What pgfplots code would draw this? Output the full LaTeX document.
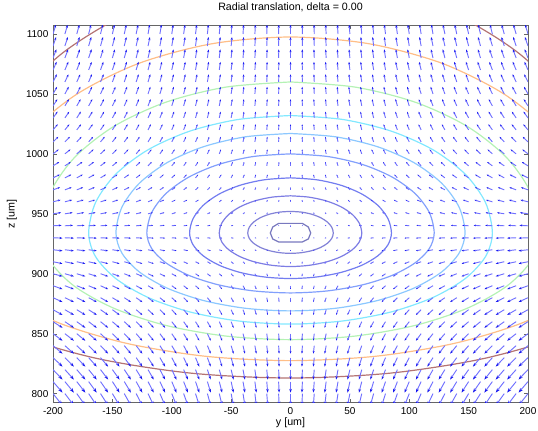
\documentclass[border=0pt]{standalone}
\usepackage{pgfplots}
\pgfplotsset{compat=1.18}
\usepackage{pgfplotstable}
\usepackage{fontspec}
\setmainfont{Liberation Sans}
\usetikzlibrary{arrows.meta,calc}

\definecolor{cA}{RGB}{120,120,190}
\definecolor{cB}{RGB}{130,130,215}
\definecolor{cC}{RGB}{125,125,228}
\definecolor{cD}{RGB}{115,125,240}
\definecolor{cE}{RGB}{130,160,252}
\definecolor{cF}{RGB}{140,200,255}
\definecolor{cG}{RGB}{130,232,255}
\definecolor{cH}{RGB}{180,242,180}
\definecolor{cI}{RGB}{255,190,135}
\definecolor{cJ}{RGB}{180,115,115}
\definecolor{shaft}{RGB}{112,112,255}
\definecolor{head}{RGB}{25,25,240}

% field: y z u v  (rows z = 800 ... 1100)
\pgfplotstableread{
y z u v
-200 800 8 -10
-190 800 7.6 -10
-180 800 7.2 -10
-170 800 6.8 -10
-160 800 6.4 -10
-150 800 6 -10
-140 800 5.6 -10
-130 800 5.2 -10
-120 800 4.8 -10
-110 800 4.4 -10
-100 800 4 -10
-90 800 3.6 -10
-80 800 3.2 -10
-70 800 2.8 -10
-60 800 2.4 -10
-50 800 2 -10
-40 800 1.6 -10
-30 800 1.2 -10
-20 800 0.8 -10
-10 800 0.4 -10
0 800 0 -10
10 800 -0.4 -10
20 800 -0.8 -10
30 800 -1.2 -10
40 800 -1.6 -10
50 800 -2 -10
60 800 -2.4 -10
70 800 -2.8 -10
80 800 -3.2 -10
90 800 -3.6 -10
100 800 -4 -10
110 800 -4.4 -10
120 800 -4.8 -10
130 800 -5.2 -10
140 800 -5.6 -10
150 800 -6 -10
160 800 -6.4 -10
170 800 -6.8 -10
180 800 -7.2 -10
190 800 -7.6 -10
200 800 -8 -10
-200 810 8 -9.2
-190 810 7.6 -9.2
-180 810 7.2 -9.2
-170 810 6.8 -9.2
-160 810 6.4 -9.2
-150 810 6 -9.2
-140 810 5.6 -9.2
-130 810 5.2 -9.2
-120 810 4.8 -9.2
-110 810 4.4 -9.2
-100 810 4 -9.2
-90 810 3.6 -9.2
-80 810 3.2 -9.2
-70 810 2.8 -9.2
-60 810 2.4 -9.2
-50 810 2 -9.2
-40 810 1.6 -9.2
-30 810 1.2 -9.2
-20 810 0.8 -9.2
-10 810 0.4 -9.2
0 810 0 -9.2
10 810 -0.4 -9.2
20 810 -0.8 -9.2
30 810 -1.2 -9.2
40 810 -1.6 -9.2
50 810 -2 -9.2
60 810 -2.4 -9.2
70 810 -2.8 -9.2
80 810 -3.2 -9.2
90 810 -3.6 -9.2
100 810 -4 -9.2
110 810 -4.4 -9.2
120 810 -4.8 -9.2
130 810 -5.2 -9.2
140 810 -5.6 -9.2
150 810 -6 -9.2
160 810 -6.4 -9.2
170 810 -6.8 -9.2
180 810 -7.2 -9.2
190 810 -7.6 -9.2
200 810 -8 -9.2
-200 820 8 -8.3
-190 820 7.6 -8.3
-180 820 7.2 -8.3
-170 820 6.8 -8.3
-160 820 6.4 -8.3
-150 820 6 -8.3
-140 820 5.6 -8.3
-130 820 5.2 -8.3
-120 820 4.8 -8.3
-110 820 4.4 -8.3
-100 820 4 -8.3
-90 820 3.6 -8.3
-80 820 3.2 -8.3
-70 820 2.8 -8.3
-60 820 2.4 -8.3
-50 820 2 -8.3
-40 820 1.6 -8.3
-30 820 1.2 -8.3
-20 820 0.8 -8.3
-10 820 0.4 -8.3
0 820 0 -8.3
10 820 -0.4 -8.3
20 820 -0.8 -8.3
30 820 -1.2 -8.3
40 820 -1.6 -8.3
50 820 -2 -8.3
60 820 -2.4 -8.3
70 820 -2.8 -8.3
80 820 -3.2 -8.3
90 820 -3.6 -8.3
100 820 -4 -8.3
110 820 -4.4 -8.3
120 820 -4.8 -8.3
130 820 -5.2 -8.3
140 820 -5.6 -8.3
150 820 -6 -8.3
160 820 -6.4 -8.3
170 820 -6.8 -8.3
180 820 -7.2 -8.3
190 820 -7.6 -8.3
200 820 -8 -8.3
-200 830 8 -7.5
-190 830 7.6 -7.5
-180 830 7.2 -7.5
-170 830 6.8 -7.5
-160 830 6.4 -7.5
-150 830 6 -7.5
-140 830 5.6 -7.5
-130 830 5.2 -7.5
-120 830 4.8 -7.5
-110 830 4.4 -7.5
-100 830 4 -7.5
-90 830 3.6 -7.5
-80 830 3.2 -7.5
-70 830 2.8 -7.5
-60 830 2.4 -7.5
-50 830 2 -7.5
-40 830 1.6 -7.5
-30 830 1.2 -7.5
-20 830 0.8 -7.5
-10 830 0.4 -7.5
0 830 0 -7.5
10 830 -0.4 -7.5
20 830 -0.8 -7.5
30 830 -1.2 -7.5
40 830 -1.6 -7.5
50 830 -2 -7.5
60 830 -2.4 -7.5
70 830 -2.8 -7.5
80 830 -3.2 -7.5
90 830 -3.6 -7.5
100 830 -4 -7.5
110 830 -4.4 -7.5
120 830 -4.8 -7.5
130 830 -5.2 -7.5
140 830 -5.6 -7.5
150 830 -6 -7.5
160 830 -6.4 -7.5
170 830 -6.8 -7.5
180 830 -7.2 -7.5
190 830 -7.6 -7.5
200 830 -8 -7.5
-200 840 8 -6.7
-190 840 7.6 -6.7
-180 840 7.2 -6.7
-170 840 6.8 -6.7
-160 840 6.4 -6.7
-150 840 6 -6.7
-140 840 5.6 -6.7
-130 840 5.2 -6.7
-120 840 4.8 -6.7
-110 840 4.4 -6.7
-100 840 4 -6.7
-90 840 3.6 -6.7
-80 840 3.2 -6.7
-70 840 2.8 -6.7
-60 840 2.4 -6.7
-50 840 2 -6.7
-40 840 1.6 -6.7
-30 840 1.2 -6.7
-20 840 0.8 -6.7
-10 840 0.4 -6.7
0 840 0 -6.7
10 840 -0.4 -6.7
20 840 -0.8 -6.7
30 840 -1.2 -6.7
40 840 -1.6 -6.7
50 840 -2 -6.7
60 840 -2.4 -6.7
70 840 -2.8 -6.7
80 840 -3.2 -6.7
90 840 -3.6 -6.7
100 840 -4 -6.7
110 840 -4.4 -6.7
120 840 -4.8 -6.7
130 840 -5.2 -6.7
140 840 -5.6 -6.7
150 840 -6 -6.7
160 840 -6.4 -6.7
170 840 -6.8 -6.7
180 840 -7.2 -6.7
190 840 -7.6 -6.7
200 840 -8 -6.7
-200 850 8 -5.9
-190 850 7.6 -5.9
-180 850 7.2 -5.9
-170 850 6.8 -5.9
-160 850 6.4 -5.9
-150 850 6 -5.9
-140 850 5.6 -5.9
-130 850 5.2 -5.9
-120 850 4.8 -5.9
-110 850 4.4 -5.9
-100 850 4 -5.9
-90 850 3.6 -5.9
-80 850 3.2 -5.9
-70 850 2.8 -5.9
-60 850 2.4 -5.9
-50 850 2 -5.9
-40 850 1.6 -5.9
-30 850 1.2 -5.9
-20 850 0.8 -5.9
-10 850 0.4 -5.9
0 850 0 -5.9
10 850 -0.4 -5.9
20 850 -0.8 -5.9
30 850 -1.2 -5.9
40 850 -1.6 -5.9
50 850 -2 -5.9
60 850 -2.4 -5.9
70 850 -2.8 -5.9
80 850 -3.2 -5.9
90 850 -3.6 -5.9
100 850 -4 -5.9
110 850 -4.4 -5.9
120 850 -4.8 -5.9
130 850 -5.2 -5.9
140 850 -5.6 -5.9
150 850 -6 -5.9
160 850 -6.4 -5.9
170 850 -6.8 -5.9
180 850 -7.2 -5.9
190 850 -7.6 -5.9
200 850 -8 -5.9
-200 860 8 -5.1
-190 860 7.6 -5.1
-180 860 7.2 -5.1
-170 860 6.8 -5.1
-160 860 6.4 -5.1
-150 860 6 -5.1
-140 860 5.6 -5.1
-130 860 5.2 -5.1
-120 860 4.8 -5.1
-110 860 4.4 -5.1
-100 860 4 -5.1
-90 860 3.6 -5.1
-80 860 3.2 -5.1
-70 860 2.8 -5.1
-60 860 2.4 -5.1
-50 860 2 -5.1
-40 860 1.6 -5.1
-30 860 1.2 -5.1
-20 860 0.8 -5.1
-10 860 0.4 -5.1
0 860 0 -5.1
10 860 -0.4 -5.1
20 860 -0.8 -5.1
30 860 -1.2 -5.1
40 860 -1.6 -5.1
50 860 -2 -5.1
60 860 -2.4 -5.1
70 860 -2.8 -5.1
80 860 -3.2 -5.1
90 860 -3.6 -5.1
100 860 -4 -5.1
110 860 -4.4 -5.1
120 860 -4.8 -5.1
130 860 -5.2 -5.1
140 860 -5.6 -5.1
150 860 -6 -5.1
160 860 -6.4 -5.1
170 860 -6.8 -5.1
180 860 -7.2 -5.1
190 860 -7.6 -5.1
200 860 -8 -5.1
-200 870 8 -4.4
-190 870 7.6 -4.4
-180 870 7.2 -4.4
-170 870 6.8 -4.4
-160 870 6.4 -4.4
-150 870 6 -4.4
-140 870 5.6 -4.4
-130 870 5.2 -4.4
-120 870 4.8 -4.4
-110 870 4.4 -4.4
-100 870 4 -4.4
-90 870 3.6 -4.4
-80 870 3.2 -4.4
-70 870 2.8 -4.4
-60 870 2.4 -4.4
-50 870 2 -4.4
-40 870 1.6 -4.4
-30 870 1.2 -4.4
-20 870 0.8 -4.4
-10 870 0.4 -4.4
0 870 0 -4.4
10 870 -0.4 -4.4
20 870 -0.8 -4.4
30 870 -1.2 -4.4
40 870 -1.6 -4.4
50 870 -2 -4.4
60 870 -2.4 -4.4
70 870 -2.8 -4.4
80 870 -3.2 -4.4
90 870 -3.6 -4.4
100 870 -4 -4.4
110 870 -4.4 -4.4
120 870 -4.8 -4.4
130 870 -5.2 -4.4
140 870 -5.6 -4.4
150 870 -6 -4.4
160 870 -6.4 -4.4
170 870 -6.8 -4.4
180 870 -7.2 -4.4
190 870 -7.6 -4.4
200 870 -8 -4.4
-200 880 8 -3.6
-190 880 7.6 -3.6
-180 880 7.2 -3.6
-170 880 6.8 -3.6
-160 880 6.4 -3.6
-150 880 6 -3.6
-140 880 5.6 -3.6
-130 880 5.2 -3.6
-120 880 4.8 -3.6
-110 880 4.4 -3.6
-100 880 4 -3.6
-90 880 3.6 -3.6
-80 880 3.2 -3.6
-70 880 2.8 -3.6
-60 880 2.4 -3.6
-50 880 2 -3.6
-40 880 1.6 -3.6
-30 880 1.2 -3.6
-20 880 0.8 -3.6
-10 880 0.4 -3.6
0 880 0 -3.6
10 880 -0.4 -3.6
20 880 -0.8 -3.6
30 880 -1.2 -3.6
40 880 -1.6 -3.6
50 880 -2 -3.6
60 880 -2.4 -3.6
70 880 -2.8 -3.6
80 880 -3.2 -3.6
90 880 -3.6 -3.6
100 880 -4 -3.6
110 880 -4.4 -3.6
120 880 -4.8 -3.6
130 880 -5.2 -3.6
140 880 -5.6 -3.6
150 880 -6 -3.6
160 880 -6.4 -3.6
170 880 -6.8 -3.6
180 880 -7.2 -3.6
190 880 -7.6 -3.6
200 880 -8 -3.6
-200 890 8 -2.9
-190 890 7.6 -2.9
-180 890 7.2 -2.9
-170 890 6.8 -2.9
-160 890 6.4 -2.9
-150 890 6 -2.9
-140 890 5.6 -2.9
-130 890 5.2 -2.9
-120 890 4.8 -2.9
-110 890 4.4 -2.9
-100 890 4 -2.9
-90 890 3.6 -2.9
-80 890 3.2 -2.9
-70 890 2.8 -2.9
-60 890 2.4 -2.9
-50 890 2 -2.9
-40 890 1.6 -2.9
-30 890 1.2 -2.9
-20 890 0.8 -2.9
-10 890 0.4 -2.9
0 890 0 -2.9
10 890 -0.4 -2.9
20 890 -0.8 -2.9
30 890 -1.2 -2.9
40 890 -1.6 -2.9
50 890 -2 -2.9
60 890 -2.4 -2.9
70 890 -2.8 -2.9
80 890 -3.2 -2.9
90 890 -3.6 -2.9
100 890 -4 -2.9
110 890 -4.4 -2.9
120 890 -4.8 -2.9
130 890 -5.2 -2.9
140 890 -5.6 -2.9
150 890 -6 -2.9
160 890 -6.4 -2.9
170 890 -6.8 -2.9
180 890 -7.2 -2.9
190 890 -7.6 -2.9
200 890 -8 -2.9
-200 900 8 -2.2
-190 900 7.6 -2.2
-180 900 7.2 -2.2
-170 900 6.8 -2.2
-160 900 6.4 -2.2
-150 900 6 -2.2
-140 900 5.6 -2.2
-130 900 5.2 -2.2
-120 900 4.8 -2.2
-110 900 4.4 -2.2
-100 900 4 -2.2
-90 900 3.6 -2.2
-80 900 3.2 -2.2
-70 900 2.8 -2.2
-60 900 2.4 -2.2
-50 900 2 -2.2
-40 900 1.6 -2.2
-30 900 1.2 -2.2
-20 900 0.8 -2.2
-10 900 0.4 -2.2
0 900 0 -2.2
10 900 -0.4 -2.2
20 900 -0.8 -2.2
30 900 -1.2 -2.2
40 900 -1.6 -2.2
50 900 -2 -2.2
60 900 -2.4 -2.2
70 900 -2.8 -2.2
80 900 -3.2 -2.2
90 900 -3.6 -2.2
100 900 -4 -2.2
110 900 -4.4 -2.2
120 900 -4.8 -2.2
130 900 -5.2 -2.2
140 900 -5.6 -2.2
150 900 -6 -2.2
160 900 -6.4 -2.2
170 900 -6.8 -2.2
180 900 -7.2 -2.2
190 900 -7.6 -2.2
200 900 -8 -2.2
-200 910 8 -1.6
-190 910 7.6 -1.6
-180 910 7.2 -1.6
-170 910 6.8 -1.6
-160 910 6.4 -1.6
-150 910 6 -1.6
-140 910 5.6 -1.6
-130 910 5.2 -1.6
-120 910 4.8 -1.6
-110 910 4.4 -1.6
-100 910 4 -1.6
-90 910 3.6 -1.6
-80 910 3.2 -1.6
-70 910 2.8 -1.6
-60 910 2.4 -1.6
-50 910 2 -1.6
-40 910 1.6 -1.6
-30 910 1.2 -1.6
-20 910 0.8 -1.6
-10 910 0.4 -1.6
0 910 0 -1.6
10 910 -0.4 -1.6
20 910 -0.8 -1.6
30 910 -1.2 -1.6
40 910 -1.6 -1.6
50 910 -2 -1.6
60 910 -2.4 -1.6
70 910 -2.8 -1.6
80 910 -3.2 -1.6
90 910 -3.6 -1.6
100 910 -4 -1.6
110 910 -4.4 -1.6
120 910 -4.8 -1.6
130 910 -5.2 -1.6
140 910 -5.6 -1.6
150 910 -6 -1.6
160 910 -6.4 -1.6
170 910 -6.8 -1.6
180 910 -7.2 -1.6
190 910 -7.6 -1.6
200 910 -8 -1.6
-200 920 8 -0.9
-190 920 7.6 -0.9
-180 920 7.2 -0.9
-170 920 6.8 -0.9
-160 920 6.4 -0.9
-150 920 6 -0.9
-140 920 5.6 -0.9
-130 920 5.2 -0.9
-120 920 4.8 -0.9
-110 920 4.4 -0.9
-100 920 4 -0.9
-90 920 3.6 -0.9
-80 920 3.2 -0.9
-70 920 2.8 -0.9
-60 920 2.4 -0.9
-50 920 2 -0.9
-40 920 1.6 -0.9
-30 920 1.2 -0.9
-20 920 0.8 -0.9
-10 920 0.4 -0.9
0 920 0 -0.9
10 920 -0.4 -0.9
20 920 -0.8 -0.9
30 920 -1.2 -0.9
40 920 -1.6 -0.9
50 920 -2 -0.9
60 920 -2.4 -0.9
70 920 -2.8 -0.9
80 920 -3.2 -0.9
90 920 -3.6 -0.9
100 920 -4 -0.9
110 920 -4.4 -0.9
120 920 -4.8 -0.9
130 920 -5.2 -0.9
140 920 -5.6 -0.9
150 920 -6 -0.9
160 920 -6.4 -0.9
170 920 -6.8 -0.9
180 920 -7.2 -0.9
190 920 -7.6 -0.9
200 920 -8 -0.9
-200 930 8 -0.3
-190 930 7.6 -0.3
-180 930 7.2 -0.3
-170 930 6.8 -0.3
-160 930 6.4 -0.3
-150 930 6 -0.3
-140 930 5.6 -0.3
-130 930 5.2 -0.3
-120 930 4.8 -0.3
-110 930 4.4 -0.3
-100 930 4 -0.3
-90 930 3.6 -0.3
-80 930 3.2 -0.3
-70 930 2.8 -0.3
-60 930 2.4 -0.3
-50 930 2 -0.3
-40 930 1.6 -0.3
-30 930 1.2 -0.3
-20 930 0.8 -0.3
-10 930 0.4 -0.3
0 930 0 -0.3
10 930 -0.4 -0.3
20 930 -0.8 -0.3
30 930 -1.2 -0.3
40 930 -1.6 -0.3
50 930 -2 -0.3
60 930 -2.4 -0.3
70 930 -2.8 -0.3
80 930 -3.2 -0.3
90 930 -3.6 -0.3
100 930 -4 -0.3
110 930 -4.4 -0.3
120 930 -4.8 -0.3
130 930 -5.2 -0.3
140 930 -5.6 -0.3
150 930 -6 -0.3
160 930 -6.4 -0.3
170 930 -6.8 -0.3
180 930 -7.2 -0.3
190 930 -7.6 -0.3
200 930 -8 -0.3
-200 940 7.2 0.4
-190 940 6.8 0.4
-180 940 6.5 0.4
-170 940 6.1 0.4
-160 940 5.8 0.4
-150 940 5.4 0.4
-140 940 5 0.4
-130 940 4.7 0.4
-120 940 4.3 0.4
-110 940 4 0.4
-100 940 3.6 0.4
-90 940 3.2 0.4
-80 940 2.9 0.4
-70 940 2.5 0.4
-60 940 2.2 0.4
-50 940 1.8 0.4
-40 940 1.4 0.4
-30 940 1.1 0.4
-20 940 0.7 0.4
-10 940 0.4 0.4
0 940 0 0.4
10 940 -0.4 0.4
20 940 -0.7 0.4
30 940 -1.1 0.4
40 940 -1.4 0.4
50 940 -1.8 0.4
60 940 -2.2 0.4
70 940 -2.5 0.4
80 940 -2.9 0.4
90 940 -3.2 0.4
100 940 -3.6 0.4
110 940 -4 0.4
120 940 -4.3 0.4
130 940 -4.7 0.4
140 940 -5 0.4
150 940 -5.4 0.4
160 940 -5.8 0.4
170 940 -6.1 0.4
180 940 -6.5 0.4
190 940 -6.8 0.4
200 940 -7.2 0.4
-200 950 6.8 1
-190 950 6.5 1
-180 950 6.1 1
-170 950 5.8 1
-160 950 5.4 1
-150 950 5.1 1
-140 950 4.8 1
-130 950 4.4 1
-120 950 4.1 1
-110 950 3.7 1
-100 950 3.4 1
-90 950 3.1 1
-80 950 2.7 1
-70 950 2.4 1
-60 950 2 1
-50 950 1.7 1
-40 950 1.4 1
-30 950 1 1
-20 950 0.7 1
-10 950 0.3 1
0 950 0 1
10 950 -0.3 1
20 950 -0.7 1
30 950 -1 1
40 950 -1.4 1
50 950 -1.7 1
60 950 -2 1
70 950 -2.4 1
80 950 -2.7 1
90 950 -3.1 1
100 950 -3.4 1
110 950 -3.7 1
120 950 -4.1 1
130 950 -4.4 1
140 950 -4.8 1
150 950 -5.1 1
160 950 -5.4 1
170 950 -5.8 1
180 950 -6.1 1
190 950 -6.5 1
200 950 -6.8 1
-200 960 6.4 1.6
-190 960 6.1 1.6
-180 960 5.8 1.6
-170 960 5.4 1.6
-160 960 5.1 1.6
-150 960 4.8 1.6
-140 960 4.5 1.6
-130 960 4.2 1.6
-120 960 3.8 1.6
-110 960 3.5 1.6
-100 960 3.2 1.6
-90 960 2.9 1.6
-80 960 2.6 1.6
-70 960 2.2 1.6
-60 960 1.9 1.6
-50 960 1.6 1.6
-40 960 1.3 1.6
-30 960 1 1.6
-20 960 0.6 1.6
-10 960 0.3 1.6
0 960 0 1.6
10 960 -0.3 1.6
20 960 -0.6 1.6
30 960 -1 1.6
40 960 -1.3 1.6
50 960 -1.6 1.6
60 960 -1.9 1.6
70 960 -2.2 1.6
80 960 -2.6 1.6
90 960 -2.9 1.6
100 960 -3.2 1.6
110 960 -3.5 1.6
120 960 -3.8 1.6
130 960 -4.2 1.6
140 960 -4.5 1.6
150 960 -4.8 1.6
160 960 -5.1 1.6
170 960 -5.4 1.6
180 960 -5.8 1.6
190 960 -6.1 1.6
200 960 -6.4 1.6
-200 970 6 2.1
-190 970 5.7 2.1
-180 970 5.4 2.1
-170 970 5.1 2.1
-160 970 4.8 2.1
-150 970 4.5 2.1
-140 970 4.2 2.1
-130 970 3.9 2.1
-120 970 3.6 2.1
-110 970 3.3 2.1
-100 970 3 2.1
-90 970 2.7 2.1
-80 970 2.4 2.1
-70 970 2.1 2.1
-60 970 1.8 2.1
-50 970 1.5 2.1
-40 970 1.2 2.1
-30 970 0.9 2.1
-20 970 0.6 2.1
-10 970 0.3 2.1
0 970 0 2.1
10 970 -0.3 2.1
20 970 -0.6 2.1
30 970 -0.9 2.1
40 970 -1.2 2.1
50 970 -1.5 2.1
60 970 -1.8 2.1
70 970 -2.1 2.1
80 970 -2.4 2.1
90 970 -2.7 2.1
100 970 -3 2.1
110 970 -3.3 2.1
120 970 -3.6 2.1
130 970 -3.9 2.1
140 970 -4.2 2.1
150 970 -4.5 2.1
160 970 -4.8 2.1
170 970 -5.1 2.1
180 970 -5.4 2.1
190 970 -5.7 2.1
200 970 -6 2.1
-200 980 5.6 2.7
-190 980 5.3 2.7
-180 980 5 2.7
-170 980 4.8 2.7
-160 980 4.5 2.7
-150 980 4.2 2.7
-140 980 3.9 2.7
-130 980 3.6 2.7
-120 980 3.4 2.7
-110 980 3.1 2.7
-100 980 2.8 2.7
-90 980 2.5 2.7
-80 980 2.2 2.7
-70 980 2 2.7
-60 980 1.7 2.7
-50 980 1.4 2.7
-40 980 1.1 2.7
-30 980 0.8 2.7
-20 980 0.6 2.7
-10 980 0.3 2.7
0 980 0 2.7
10 980 -0.3 2.7
20 980 -0.6 2.7
30 980 -0.8 2.7
40 980 -1.1 2.7
50 980 -1.4 2.7
60 980 -1.7 2.7
70 980 -2 2.7
80 980 -2.2 2.7
90 980 -2.5 2.7
100 980 -2.8 2.7
110 980 -3.1 2.7
120 980 -3.4 2.7
130 980 -3.6 2.7
140 980 -3.9 2.7
150 980 -4.2 2.7
160 980 -4.5 2.7
170 980 -4.8 2.7
180 980 -5 2.7
190 980 -5.3 2.7
200 980 -5.6 2.7
-200 990 5.2 3.2
-190 990 4.9 3.2
-180 990 4.7 3.2
-170 990 4.4 3.2
-160 990 4.2 3.2
-150 990 3.9 3.2
-140 990 3.6 3.2
-130 990 3.4 3.2
-120 990 3.1 3.2
-110 990 2.9 3.2
-100 990 2.6 3.2
-90 990 2.3 3.2
-80 990 2.1 3.2
-70 990 1.8 3.2
-60 990 1.6 3.2
-50 990 1.3 3.2
-40 990 1 3.2
-30 990 0.8 3.2
-20 990 0.5 3.2
-10 990 0.3 3.2
0 990 0 3.2
10 990 -0.3 3.2
20 990 -0.5 3.2
30 990 -0.8 3.2
40 990 -1 3.2
50 990 -1.3 3.2
60 990 -1.6 3.2
70 990 -1.8 3.2
80 990 -2.1 3.2
90 990 -2.3 3.2
100 990 -2.6 3.2
110 990 -2.9 3.2
120 990 -3.1 3.2
130 990 -3.4 3.2
140 990 -3.6 3.2
150 990 -3.9 3.2
160 990 -4.2 3.2
170 990 -4.4 3.2
180 990 -4.7 3.2
190 990 -4.9 3.2
200 990 -5.2 3.2
-200 1000 4.8 3.7
-190 1000 4.6 3.7
-180 1000 4.3 3.7
-170 1000 4.1 3.7
-160 1000 3.8 3.7
-150 1000 3.6 3.7
-140 1000 3.4 3.7
-130 1000 3.1 3.7
-120 1000 2.9 3.7
-110 1000 2.6 3.7
-100 1000 2.4 3.7
-90 1000 2.2 3.7
-80 1000 1.9 3.7
-70 1000 1.7 3.7
-60 1000 1.4 3.7
-50 1000 1.2 3.7
-40 1000 1 3.7
-30 1000 0.7 3.7
-20 1000 0.5 3.7
-10 1000 0.2 3.7
0 1000 0 3.7
10 1000 -0.2 3.7
20 1000 -0.5 3.7
30 1000 -0.7 3.7
40 1000 -1 3.7
50 1000 -1.2 3.7
60 1000 -1.4 3.7
70 1000 -1.7 3.7
80 1000 -1.9 3.7
90 1000 -2.2 3.7
100 1000 -2.4 3.7
110 1000 -2.6 3.7
120 1000 -2.9 3.7
130 1000 -3.1 3.7
140 1000 -3.4 3.7
150 1000 -3.6 3.7
160 1000 -3.8 3.7
170 1000 -4.1 3.7
180 1000 -4.3 3.7
190 1000 -4.6 3.7
200 1000 -4.8 3.7
-200 1010 4.4 4.2
-190 1010 4.2 4.2
-180 1010 4 4.2
-170 1010 3.7 4.2
-160 1010 3.5 4.2
-150 1010 3.3 4.2
-140 1010 3.1 4.2
-130 1010 2.9 4.2
-120 1010 2.6 4.2
-110 1010 2.4 4.2
-100 1010 2.2 4.2
-90 1010 2 4.2
-80 1010 1.8 4.2
-70 1010 1.5 4.2
-60 1010 1.3 4.2
-50 1010 1.1 4.2
-40 1010 0.9 4.2
-30 1010 0.7 4.2
-20 1010 0.4 4.2
-10 1010 0.2 4.2
0 1010 0 4.2
10 1010 -0.2 4.2
20 1010 -0.4 4.2
30 1010 -0.7 4.2
40 1010 -0.9 4.2
50 1010 -1.1 4.2
60 1010 -1.3 4.2
70 1010 -1.5 4.2
80 1010 -1.8 4.2
90 1010 -2 4.2
100 1010 -2.2 4.2
110 1010 -2.4 4.2
120 1010 -2.6 4.2
130 1010 -2.9 4.2
140 1010 -3.1 4.2
150 1010 -3.3 4.2
160 1010 -3.5 4.2
170 1010 -3.7 4.2
180 1010 -4 4.2
190 1010 -4.2 4.2
200 1010 -4.4 4.2
-200 1020 4 4.7
-190 1020 3.8 4.7
-180 1020 3.6 4.7
-170 1020 3.4 4.7
-160 1020 3.2 4.7
-150 1020 3 4.7
-140 1020 2.8 4.7
-130 1020 2.6 4.7
-120 1020 2.4 4.7
-110 1020 2.2 4.7
-100 1020 2 4.7
-90 1020 1.8 4.7
-80 1020 1.6 4.7
-70 1020 1.4 4.7
-60 1020 1.2 4.7
-50 1020 1 4.7
-40 1020 0.8 4.7
-30 1020 0.6 4.7
-20 1020 0.4 4.7
-10 1020 0.2 4.7
0 1020 0 4.7
10 1020 -0.2 4.7
20 1020 -0.4 4.7
30 1020 -0.6 4.7
40 1020 -0.8 4.7
50 1020 -1 4.7
60 1020 -1.2 4.7
70 1020 -1.4 4.7
80 1020 -1.6 4.7
90 1020 -1.8 4.7
100 1020 -2 4.7
110 1020 -2.2 4.7
120 1020 -2.4 4.7
130 1020 -2.6 4.7
140 1020 -2.8 4.7
150 1020 -3 4.7
160 1020 -3.2 4.7
170 1020 -3.4 4.7
180 1020 -3.6 4.7
190 1020 -3.8 4.7
200 1020 -4 4.7
-200 1030 3.8 5.2
-190 1030 3.6 5.2
-180 1030 3.4 5.2
-170 1030 3.2 5.2
-160 1030 3 5.2
-150 1030 2.9 5.2
-140 1030 2.7 5.2
-130 1030 2.5 5.2
-120 1030 2.3 5.2
-110 1030 2.1 5.2
-100 1030 1.9 5.2
-90 1030 1.7 5.2
-80 1030 1.5 5.2
-70 1030 1.3 5.2
-60 1030 1.1 5.2
-50 1030 1 5.2
-40 1030 0.8 5.2
-30 1030 0.6 5.2
-20 1030 0.4 5.2
-10 1030 0.2 5.2
0 1030 0 5.2
10 1030 -0.2 5.2
20 1030 -0.4 5.2
30 1030 -0.6 5.2
40 1030 -0.8 5.2
50 1030 -1 5.2
60 1030 -1.1 5.2
70 1030 -1.3 5.2
80 1030 -1.5 5.2
90 1030 -1.7 5.2
100 1030 -1.9 5.2
110 1030 -2.1 5.2
120 1030 -2.3 5.2
130 1030 -2.5 5.2
140 1030 -2.7 5.2
150 1030 -2.9 5.2
160 1030 -3 5.2
170 1030 -3.2 5.2
180 1030 -3.4 5.2
190 1030 -3.6 5.2
200 1030 -3.8 5.2
-200 1040 3.6 5.6
-190 1040 3.4 5.6
-180 1040 3.2 5.6
-170 1040 3.1 5.6
-160 1040 2.9 5.6
-150 1040 2.7 5.6
-140 1040 2.5 5.6
-130 1040 2.3 5.6
-120 1040 2.2 5.6
-110 1040 2 5.6
-100 1040 1.8 5.6
-90 1040 1.6 5.6
-80 1040 1.4 5.6
-70 1040 1.3 5.6
-60 1040 1.1 5.6
-50 1040 0.9 5.6
-40 1040 0.7 5.6
-30 1040 0.5 5.6
-20 1040 0.4 5.6
-10 1040 0.2 5.6
0 1040 0 5.6
10 1040 -0.2 5.6
20 1040 -0.4 5.6
30 1040 -0.5 5.6
40 1040 -0.7 5.6
50 1040 -0.9 5.6
60 1040 -1.1 5.6
70 1040 -1.3 5.6
80 1040 -1.4 5.6
90 1040 -1.6 5.6
100 1040 -1.8 5.6
110 1040 -2 5.6
120 1040 -2.2 5.6
130 1040 -2.3 5.6
140 1040 -2.5 5.6
150 1040 -2.7 5.6
160 1040 -2.9 5.6
170 1040 -3.1 5.6
180 1040 -3.2 5.6
190 1040 -3.4 5.6
200 1040 -3.6 5.6
-200 1050 3.4 6
-190 1050 3.2 6
-180 1050 3.1 6
-170 1050 2.9 6
-160 1050 2.7 6
-150 1050 2.6 6
-140 1050 2.4 6
-130 1050 2.2 6
-120 1050 2 6
-110 1050 1.9 6
-100 1050 1.7 6
-90 1050 1.5 6
-80 1050 1.4 6
-70 1050 1.2 6
-60 1050 1 6
-50 1050 0.9 6
-40 1050 0.7 6
-30 1050 0.5 6
-20 1050 0.3 6
-10 1050 0.2 6
0 1050 0 6
10 1050 -0.2 6
20 1050 -0.3 6
30 1050 -0.5 6
40 1050 -0.7 6
50 1050 -0.9 6
60 1050 -1 6
70 1050 -1.2 6
80 1050 -1.4 6
90 1050 -1.5 6
100 1050 -1.7 6
110 1050 -1.9 6
120 1050 -2 6
130 1050 -2.2 6
140 1050 -2.4 6
150 1050 -2.6 6
160 1050 -2.7 6
170 1050 -2.9 6
180 1050 -3.1 6
190 1050 -3.2 6
200 1050 -3.4 6
-200 1060 3.2 6.4
-190 1060 3 6.4
-180 1060 2.9 6.4
-170 1060 2.7 6.4
-160 1060 2.6 6.4
-150 1060 2.4 6.4
-140 1060 2.2 6.4
-130 1060 2.1 6.4
-120 1060 1.9 6.4
-110 1060 1.8 6.4
-100 1060 1.6 6.4
-90 1060 1.4 6.4
-80 1060 1.3 6.4
-70 1060 1.1 6.4
-60 1060 1 6.4
-50 1060 0.8 6.4
-40 1060 0.6 6.4
-30 1060 0.5 6.4
-20 1060 0.3 6.4
-10 1060 0.2 6.4
0 1060 0 6.4
10 1060 -0.2 6.4
20 1060 -0.3 6.4
30 1060 -0.5 6.4
40 1060 -0.6 6.4
50 1060 -0.8 6.4
60 1060 -1 6.4
70 1060 -1.1 6.4
80 1060 -1.3 6.4
90 1060 -1.4 6.4
100 1060 -1.6 6.4
110 1060 -1.8 6.4
120 1060 -1.9 6.4
130 1060 -2.1 6.4
140 1060 -2.2 6.4
150 1060 -2.4 6.4
160 1060 -2.6 6.4
170 1060 -2.7 6.4
180 1060 -2.9 6.4
190 1060 -3 6.4
200 1060 -3.2 6.4
-200 1070 3 6.8
-190 1070 2.9 6.8
-180 1070 2.7 6.8
-170 1070 2.6 6.8
-160 1070 2.4 6.8
-150 1070 2.3 6.8
-140 1070 2.1 6.8
-130 1070 2 6.8
-120 1070 1.8 6.8
-110 1070 1.7 6.8
-100 1070 1.5 6.8
-90 1070 1.4 6.8
-80 1070 1.2 6.8
-70 1070 1.1 6.8
-60 1070 0.9 6.8
-50 1070 0.8 6.8
-40 1070 0.6 6.8
-30 1070 0.5 6.8
-20 1070 0.3 6.8
-10 1070 0.2 6.8
0 1070 0 6.8
10 1070 -0.2 6.8
20 1070 -0.3 6.8
30 1070 -0.5 6.8
40 1070 -0.6 6.8
50 1070 -0.8 6.8
60 1070 -0.9 6.8
70 1070 -1.1 6.8
80 1070 -1.2 6.8
90 1070 -1.4 6.8
100 1070 -1.5 6.8
110 1070 -1.7 6.8
120 1070 -1.8 6.8
130 1070 -2 6.8
140 1070 -2.1 6.8
150 1070 -2.3 6.8
160 1070 -2.4 6.8
170 1070 -2.6 6.8
180 1070 -2.7 6.8
190 1070 -2.9 6.8
200 1070 -3 6.8
-200 1080 2.8 7.2
-190 1080 2.7 7.2
-180 1080 2.5 7.2
-170 1080 2.4 7.2
-160 1080 2.2 7.2
-150 1080 2.1 7.2
-140 1080 2 7.2
-130 1080 1.8 7.2
-120 1080 1.7 7.2
-110 1080 1.5 7.2
-100 1080 1.4 7.2
-90 1080 1.3 7.2
-80 1080 1.1 7.2
-70 1080 1 7.2
-60 1080 0.8 7.2
-50 1080 0.7 7.2
-40 1080 0.6 7.2
-30 1080 0.4 7.2
-20 1080 0.3 7.2
-10 1080 0.1 7.2
0 1080 0 7.2
10 1080 -0.1 7.2
20 1080 -0.3 7.2
30 1080 -0.4 7.2
40 1080 -0.6 7.2
50 1080 -0.7 7.2
60 1080 -0.8 7.2
70 1080 -1 7.2
80 1080 -1.1 7.2
90 1080 -1.3 7.2
100 1080 -1.4 7.2
110 1080 -1.5 7.2
120 1080 -1.7 7.2
130 1080 -1.8 7.2
140 1080 -2 7.2
150 1080 -2.1 7.2
160 1080 -2.2 7.2
170 1080 -2.4 7.2
180 1080 -2.5 7.2
190 1080 -2.7 7.2
200 1080 -2.8 7.2
-200 1090 2.6 7.5
-190 1090 2.5 7.5
-180 1090 2.3 7.5
-170 1090 2.2 7.5
-160 1090 2.1 7.5
-150 1090 2 7.5
-140 1090 1.8 7.5
-130 1090 1.7 7.5
-120 1090 1.6 7.5
-110 1090 1.4 7.5
-100 1090 1.3 7.5
-90 1090 1.2 7.5
-80 1090 1 7.5
-70 1090 0.9 7.5
-60 1090 0.8 7.5
-50 1090 0.7 7.5
-40 1090 0.5 7.5
-30 1090 0.4 7.5
-20 1090 0.3 7.5
-10 1090 0.1 7.5
0 1090 0 7.5
10 1090 -0.1 7.5
20 1090 -0.3 7.5
30 1090 -0.4 7.5
40 1090 -0.5 7.5
50 1090 -0.7 7.5
60 1090 -0.8 7.5
70 1090 -0.9 7.5
80 1090 -1 7.5
90 1090 -1.2 7.5
100 1090 -1.3 7.5
110 1090 -1.4 7.5
120 1090 -1.6 7.5
130 1090 -1.7 7.5
140 1090 -1.8 7.5
150 1090 -2 7.5
160 1090 -2.1 7.5
170 1090 -2.2 7.5
180 1090 -2.3 7.5
190 1090 -2.5 7.5
200 1090 -2.6 7.5
-200 1100 2.4 7.8
-190 1100 2.3 7.8
-180 1100 2.2 7.8
-170 1100 2 7.8
-160 1100 1.9 7.8
-150 1100 1.8 7.8
-140 1100 1.7 7.8
-130 1100 1.6 7.8
-120 1100 1.4 7.8
-110 1100 1.3 7.8
-100 1100 1.2 7.8
-90 1100 1.1 7.8
-80 1100 1 7.8
-70 1100 0.8 7.8
-60 1100 0.7 7.8
-50 1100 0.6 7.8
-40 1100 0.5 7.8
-30 1100 0.4 7.8
-20 1100 0.2 7.8
-10 1100 0.1 7.8
0 1100 0 7.8
10 1100 -0.1 7.8
20 1100 -0.2 7.8
30 1100 -0.4 7.8
40 1100 -0.5 7.8
50 1100 -0.6 7.8
60 1100 -0.7 7.8
70 1100 -0.8 7.8
80 1100 -1 7.8
90 1100 -1.1 7.8
100 1100 -1.2 7.8
110 1100 -1.3 7.8
120 1100 -1.4 7.8
130 1100 -1.6 7.8
140 1100 -1.7 7.8
150 1100 -1.8 7.8
160 1100 -1.9 7.8
170 1100 -2 7.8
180 1100 -2.2 7.8
190 1100 -2.3 7.8
200 1100 -2.4 7.8
}\field

\begin{document}
\begin{tikzpicture}
\begin{axis}[
  scale only axis,
  width=356pt, height=283pt,
  xmin=-200, xmax=200, ymin=792.5, ymax=1107.5,
  xtick={-200,-150,...,200},
  ytick={800,850,...,1100},
  tick align=inside,
  major tick length=3pt,
  axis line style={gray!80!black},
  tick style={gray!80!black},
  tick label style={font=\fontsize{7.5}{9}\selectfont},
  /pgf/number format/assume math mode=true,
  /pgf/number format/1000 sep={},
  title={Radial translation, delta = 0.00},
  title style={font=\fontsize{8}{10}\selectfont},
  xlabel={y [um]},
  ylabel={z [um]},
  label style={font=\fontsize{8}{10}\selectfont},
  xlabel style={yshift=4pt},
  clip=true,
]
% contour lines
\addplot[cJ, line width=0.9pt, smooth] coordinates {
 (-325,934) (-314,902.7) (-281.5,873.5) (-229.8,848.5) (-162.5,829.2) (-84.2,817.1) (0,813)
 (84.2,817.1) (162.5,829.2) (229.8,848.5) (281.5,873.5) (314,902.7) (325,934)};
\addplot[cJ, line width=0.9pt, smooth] coordinates {
 (-272,934) (-262.8,988.9) (-235.6,1040) (-192.3,1083.9) (-136,1117.6) (-70.4,1138.8) (0,1146)
 (70.4,1138.8) (136,1117.6) (192.3,1083.9) (235.6,1040) (262.8,988.9) (272,934)};
\addplot[cI, line width=0.9pt, smooth] coordinates {
 (-275,934) (-265.7,906.4) (-238.2,880.7) (-194.4,858.7) (-137.5,841.8) (-71.2,831.1) (0,827.5)
 (71.2,831.1) (137.5,841.8) (194.4,858.7) (238.2,880.7) (265.7,906.4) (275,934)};
\addplot[cI, line width=0.9pt, smooth] coordinates {
 (-255,934) (-246.3,976.3) (-220.8,1015.8) (-180.3,1049.6) (-127.5,1075.6) (-66,1091.9) (0,1097.5)
 (66,1091.9) (127.5,1075.6) (180.3,1049.6) (220.8,1015.8) (246.3,976.3) (255,934)};
\addplot[cH, line width=0.9pt, smooth] coordinates {
 (0,1060) (54.4,1055.7) (105,1043.1) (148.5,1023.1) (181.9,997) (202.9,966.6) (210,934)
 (202.9,911) (181.9,889.5) (148.5,871.1) (105,856.9) (54.4,848) (0,845)
 (-54.4,848) (-105,856.9) (-148.5,871.1) (-181.9,889.5) (-202.9,911) (-210,934)
 (-202.9,966.6) (-181.9,997) (-148.5,1023.1) (-105,1043.1) (-54.4,1055.7) (0,1060)};
\addplot[cG, line width=0.9pt, smooth] coordinates {
 (0,1032) (44,1028.7) (85,1018.9) (120.2,1003.3) (147.2,983) (164.2,959.4) (170,934)
 (164.2,914.3) (147.2,896) (120.2,880.3) (85,868.2) (44,860.6) (0,858)
 (-44,860.6) (-85,868.2) (-120.2,880.3) (-147.2,896) (-164.2,914.3) (-170,934)
 (-164.2,959.4) (-147.2,983) (-120.2,1003.3) (-85,1018.9) (-44,1028.7) (0,1032)};
\addplot[cF, line width=0.9pt, smooth] coordinates {
 (0,1017) (38.1,1014.2) (73.5,1005.9) (103.9,992.7) (127.3,975.5) (142,955.5) (147,934)
 (142,917.2) (127.3,901.5) (103.9,888) (73.5,877.7) (38.1,871.2) (0,869)
 (-38.1,871.2) (-73.5,877.7) (-103.9,888) (-127.3,901.5) (-142,917.2) (-147,934)
 (-142,955.5) (-127.3,975.5) (-103.9,992.7) (-73.5,1005.9) (-38.1,1014.2) (0,1017)};
\addplot[cE, line width=0.9pt, smooth] coordinates {
 (0,1000) (31.3,997.8) (60.5,991.2) (85.5,980.7) (104.8,967) (116.9,951.1) (121,934)
 (116.9,921) (104.8,909) (85.5,898.6) (60.5,890.7) (31.3,885.7) (0,884)
 (-31.3,885.7) (-60.5,890.7) (-85.5,898.6) (-104.8,909) (-116.9,921) (-121,934)
 (-116.9,951.1) (-104.8,967) (-85.5,980.7) (-60.5,991.2) (-31.3,997.8) (0,1000)};
\addplot[cD, line width=0.9pt, smooth] coordinates {
 (0,980) (22,978.4) (42.5,973.8) (60.1,966.5) (73.6,957) (82.1,945.9) (85,934)
 (82.1,924.2) (73.6,915) (60.1,907.1) (42.5,901.1) (22,897.3) (0,896)
 (-22,897.3) (-42.5,901.1) (-60.1,907.1) (-73.6,915) (-82.1,924.2) (-85,934)
 (-82.1,945.9) (-73.6,957) (-60.1,966.5) (-42.5,973.8) (-22,978.4) (0,980)};
\addplot[cC, line width=0.9pt, smooth] coordinates {
 (0,965) (15.5,963.9) (30,960.8) (42.4,955.9) (52,949.5) (58,942) (60,934)
 (58,926.7) (52,920) (42.4,914.2) (30,909.8) (15.5,907) (0,906)
 (-15.5,907) (-30,909.8) (-42.4,914.2) (-52,920) (-58,926.7) (-60,934)
 (-58,942) (-52,949.5) (-42.4,955.9) (-30,960.8) (-15.5,963.9) (0,965)};
\addplot[cB, line width=0.9pt, smooth] coordinates {
 (0,952) (9.3,951.4) (18,949.6) (25.5,946.7) (31.2,943) (34.8,938.7) (36,934)
 (34.8,929.6) (31.2,925.5) (25.5,922) (18,919.3) (9.3,917.6) (0,917)
 (-9.3,917.6) (-18,919.3) (-25.5,922) (-31.2,925.5) (-34.8,929.6) (-36,934)
 (-34.8,938.7) (-31.2,943) (-25.5,946.7) (-18,949.6) (-9.3,951.4) (0,952)};
\addplot[cA, line width=0.9pt, sharp plot] coordinates {
 (-10,942) (10,942) (15,939) (17,934) (15,929) (10,926.5) (-10,926.5)
 (-15,929) (-17,934) (-15,939) (-10,942)};
% vector field
\addplot[shaft, line width=0.7pt,
  point meta={sqrt((\thisrow{u})^2+(\thisrow{v})^2)},
  point meta min=0,
  quiver={u=\thisrow{u}, v=\thisrow{v},
    every arrow/.append style={-{Stealth[length=3.8pt, width=2.6pt, color=head,
      scale={max(0.15,\pgfplotspointmetatransformed/1000)}]}}},
] table[x=y, y=z] {\field};
\end{axis}
\pgfresetboundingbox
\path[use as bounding box] ($(current axis.south west)+(-39.75pt,-21pt)$)
  rectangle ($(current axis.north east)+(7.5pt,18.75pt)$);
\end{tikzpicture}
\end{document}
